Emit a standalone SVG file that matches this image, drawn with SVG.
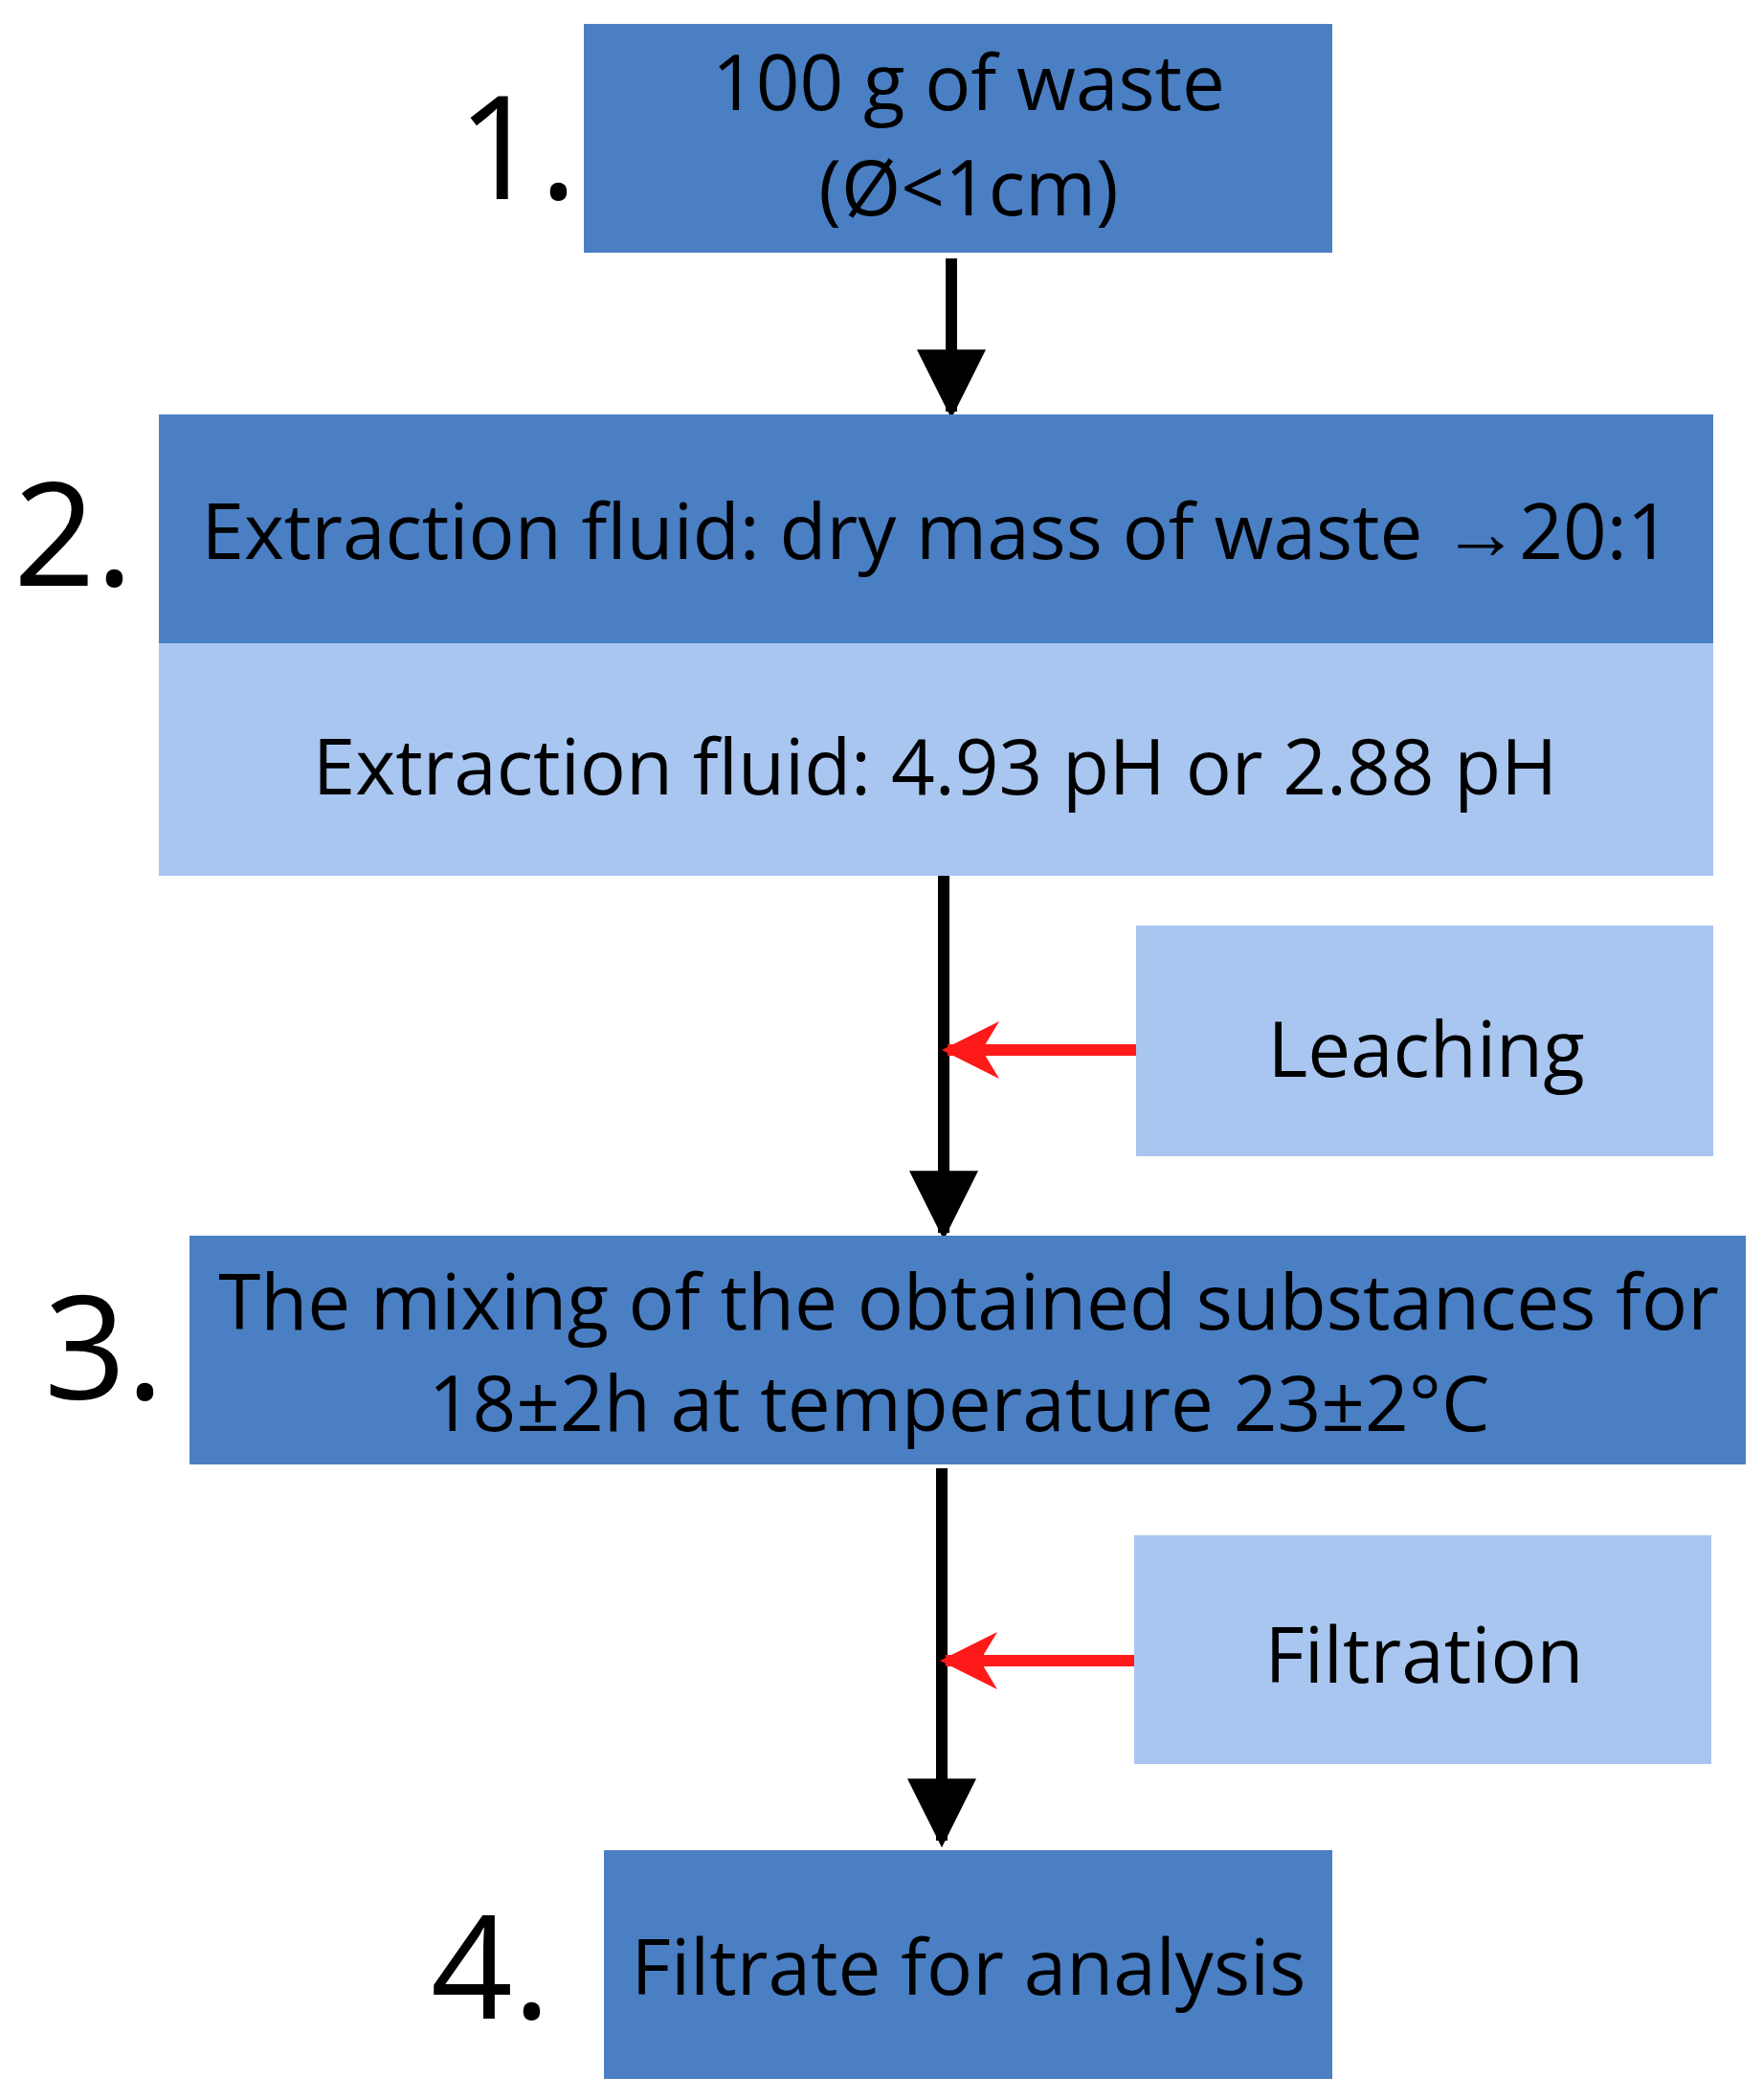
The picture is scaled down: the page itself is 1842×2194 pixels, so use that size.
<svg xmlns="http://www.w3.org/2000/svg" width="1842" height="2194" viewBox="0 0 1842 2194">
<style>
.d{fill:#4a7fc4}.l{fill:#a8c6f0}
text{font-family:"Open Sans","Noto Sans",sans-serif;fill:#000}
.t{font-size:80px;text-anchor:middle}
.n{font-size:150px}
.k{stroke:#000;stroke-width:12;fill:none}
.r{stroke:#ff1a1a;stroke-width:12;fill:none}
</style>
<defs>
<marker id="ab" viewBox="0 0 10 10" refX="9" refY="5" markerWidth="6" markerHeight="6" markerUnits="strokeWidth" orient="auto"><path d="M0,0L10,5L0,10Z" fill="#000"/></marker>
<marker id="ar" viewBox="0 0 10 10" refX="9" refY="5" markerWidth="5" markerHeight="6" markerUnits="strokeWidth" orient="auto"><path d="M0,0L10,5L0,10L3,5Z" fill="#ff1a1a"/></marker>
</defs>
<rect width="1842" height="2194" fill="#fff"/>
<g id="connectors">
<line class="k" x1="994" y1="270" x2="994" y2="430" marker-end="url(#ab)"/>
<line class="k" x1="986" y1="915" x2="986" y2="1288" marker-end="url(#ab)"/>
<line class="k" x1="984" y1="1534" x2="984" y2="1923" marker-end="url(#ab)"/>
<line class="r" x1="1194" y1="1097" x2="990" y2="1097" marker-end="url(#ar)"/>
<line class="r" x1="1194" y1="1735" x2="988" y2="1735" marker-end="url(#ar)"/>
</g>
<g id="n1"><rect class="d" x="610" y="25" width="782" height="239"/><text class="t" x="1012" y="115">100 g of waste</text><text class="t" x="1012" y="225">(Ø&lt;1cm)</text><text class="n" x="478" y="208">1.</text></g>
<g id="n2"><rect class="d" x="166" y="433" width="1624" height="239"/><text class="t" x="978" y="584">Extraction fluid: dry mass of waste →20:1</text><text class="n" x="14" y="612">2.</text></g>
<g id="n2b"><rect class="l" x="166" y="672" width="1624" height="243"/><text class="t" x="977" y="830">Extraction fluid: 4.93 pH or 2.88 pH</text></g>
<g id="leach"><rect class="l" x="1187" y="967" width="603" height="241"/><text class="t" x="1490" y="1125">Leaching</text></g>
<g id="n3"><rect class="d" x="198" y="1291" width="1626" height="239"/><text class="t" x="1012" y="1389">The mixing of the obtained substances for</text><text class="t" x="1002" y="1495">18±2h at temperature 23±2°C</text><text class="n" x="46" y="1462">3.</text></g>
<g id="filt"><rect class="l" x="1185" y="1604" width="603" height="239"/><text class="t" x="1488" y="1758">Filtration</text></g>
<g id="n4"><rect class="d" x="631" y="1933" width="761" height="239"/><text class="t" x="1012" y="2084">Filtrate for analysis</text><text class="n" x="450" y="2109">4.</text></g>
</svg>
